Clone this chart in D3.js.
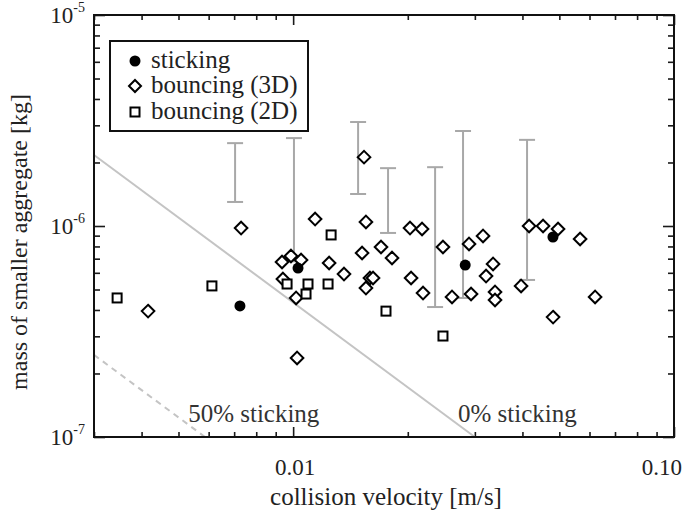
<!DOCTYPE html>
<html><head><meta charset="utf-8">
<script src="https://cdn.jsdelivr.net/npm/d3@7"></script>
<style>
html,body{margin:0;padding:0;background:#fff;}
svg{display:block;font-family:"Liberation Serif","Times New Roman",serif;}
</style></head>
<body>
<svg id="chart" width="696" height="516"></svg>
<script>
// ---- data (velocity m/s, mass kg) ----
const stickingV = [0.00725, 0.0103, 0.0283, 0.0481];
const stickingM = [4.18e-7, 6.32e-7, 6.53e-7, 8.87e-7];

const bounce3DV = [0.00416, 0.0073, 0.01024, 0.00935, 0.00987, 0.01049, 0.0094, 0.01018, 0.01142, 0.01243,
  0.0136, 0.01517, 0.01535, 0.01553, 0.01553, 0.01591, 0.01621, 0.01701, 0.01818, 0.02027,
  0.0218, 0.0204, 0.02193, 0.02474, 0.02613, 0.02896, 0.02932, 0.03152, 0.0321, 0.03349,
  0.03389, 0.03389, 0.03967, 0.04164, 0.04531, 0.04961, 0.04814, 0.05668, 0.06206];
const bounce3DM = [3.95e-7, 9.78e-7, 2.37e-7, 6.75e-7, 7.21e-7, 6.9e-7, 5.61e-7, 4.56e-7, 1.079e-6, 6.68e-7,
  5.92e-7, 7.45e-7, 2.12e-6, 1.045e-6, 5.08e-7, 5.67e-7, 5.67e-7, 7.95e-7, 7.05e-7, 9.78e-7,
  9.68e-7, 5.67e-7, 4.81e-7, 7.95e-7, 4.61e-7, 8.22e-7, 4.76e-7, 8.97e-7, 5.79e-7, 6.61e-7,
  4.87e-7, 4.46e-7, 5.2e-7, 1.0e-6, 1.0e-6, 9.68e-7, 3.7e-7, 8.68e-7, 4.61e-7];

const bounce2DV = [0.00345, 0.00612, 0.00964, 0.01094, 0.01081, 0.01235, 0.01258, 0.01753, 0.02474];
const bounce2DM = [4.56e-7, 5.2e-7, 5.31e-7, 5.31e-7, 4.76e-7, 5.31e-7, 9.07e-7, 3.95e-7, 3.01e-7];

const errV    = [0.00704, 0.01005, 0.01481, 0.01775, 0.02359, 0.02793, 0.04113];
const errHigh = [2.47e-6, 2.61e-6, 3.11e-6, 1.88e-6, 1.90e-6, 2.82e-6, 2.56e-6];
const errLow  = [1.30e-6, 6.8e-7, 1.418e-6, 9.27e-7, 4.13e-7, 4.56e-7, 5.55e-7];

const line0V  = [0.003, 0.03];
const line0M  = [2.17e-6, 1e-7];
const line50V = [0.003, 0.00587];
const line50M = [2.45e-7, 1e-7];

const xDomain = [0.003, 0.1];
const yDomain = [1e-7, 1e-5];
const xMajorTicks = [0.01, 0.1];
const xTickLabels = ["0.01", "0.10"];
const yMajorTicks = [1e-7, 1e-6, 1e-5];
const yTickExps = ["-7", "-6", "-5"];
const legendLabels = ["sticking", "bouncing (3D)", "bouncing (2D)"];
const annotLabels = ["50% sticking", "0% sticking"];
const annotV = [0.0053, 0.0271];
const xTitle = "collision velocity [m/s]";
const yTitle = "mass of smaller aggregate [kg]";

// ---- layout ----
const W = 696, H = 516;
const m = {left: 94, right: 22, top: 15, bottom: 79};
const pw = W - m.left - m.right, ph = H - m.top - m.bottom;
const svg = d3.select("#chart");
const g = svg.append("g").attr("transform", `translate(${m.left},${m.top})`);

const x = d3.scaleLog().domain(xDomain).range([0, pw]);
const y = d3.scaleLog().domain(yDomain).range([ph, 0]);

const allX = x.ticks();
const allY = y.ticks();
const isMajor = v => Math.abs(Math.log10(v) - Math.round(Math.log10(v))) < 1e-6;
const xMinor = allX.filter(v => !isMajor(v));
const yMinor = allY.filter(v => !isMajor(v));

const tickColor = "#1a1a1a";
function drawAxis(axisGen, scale, vals, len, transform) {
  const a = g.append("g").attr("transform", transform)
    .call(axisGen(scale).tickValues(vals).tickSizeInner(-len).tickSizeOuter(0).tickFormat(""));
  a.select(".domain").remove();
  a.selectAll(".tick line").attr("stroke", tickColor).attr("stroke-width", 1.6);
}
drawAxis(d3.axisBottom, x, xMinor, 5, `translate(0,${ph})`);
drawAxis(d3.axisBottom, x, xMajorTicks, 10, `translate(0,${ph})`);
drawAxis(d3.axisTop, x, xMinor, 5, `translate(0,0)`);
drawAxis(d3.axisTop, x, xMajorTicks, 10, `translate(0,0)`);
drawAxis(d3.axisLeft, y, yMinor, 6, `translate(0,0)`);
drawAxis(d3.axisLeft, y, yMajorTicks, 11, `translate(0,0)`);
drawAxis(d3.axisRight, y, yMinor, 6, `translate(${pw},0)`);
drawAxis(d3.axisRight, y, yMajorTicks, 11, `translate(${pw},0)`);

// ---- sticking threshold lines ----
const lineGen = d3.line().x(d => x(d[0])).y(d => y(d[1]));
g.append("path").datum(line0V.map((v, i) => [v, line0M[i]]))
  .attr("d", lineGen).attr("fill", "none").attr("stroke", "#c4c4c4").attr("stroke-width", 2);
g.append("path").datum(line50V.map((v, i) => [v, line50M[i]]))
  .attr("d", lineGen).attr("fill", "none").attr("stroke", "#c4c4c4").attr("stroke-width", 2)
  .attr("stroke-dasharray", "6,5");

// ---- error bars ----
const eb = g.append("g").attr("stroke", "#a8a8a8").attr("stroke-width", 2).attr("fill", "none");
errV.forEach((v, i) => {
  const cx = x(v), y1 = y(errHigh[i]), y2 = y(errLow[i]);
  eb.append("line").attr("x1", cx).attr("x2", cx).attr("y1", y1).attr("y2", y2);
  eb.append("line").attr("x1", cx - 8).attr("x2", cx + 8).attr("y1", y1).attr("y2", y1);
  eb.append("line").attr("x1", cx - 8).attr("x2", cx + 8).attr("y1", y2).attr("y2", y2);
});

// ---- markers ----
const diamond = s => `M0,${-s}L${s},0L0,${s}L${-s},0Z`;
g.append("g").selectAll("path").data(bounce3DV.map((v, i) => [v, bounce3DM[i]])).join("path")
  .attr("transform", d => `translate(${x(d[0])},${y(d[1])})`)
  .attr("d", diamond(6.3)).attr("fill", "#fff").attr("stroke", "#000").attr("stroke-width", 2);
g.append("g").selectAll("rect").data(bounce2DV.map((v, i) => [v, bounce2DM[i]])).join("rect")
  .attr("x", d => x(d[0]) - 4.5).attr("y", d => y(d[1]) - 4.5).attr("width", 9).attr("height", 9)
  .attr("fill", "#fff").attr("stroke", "#000").attr("stroke-width", 2);
g.append("g").selectAll("circle").data(stickingV.map((v, i) => [v, stickingM[i]])).join("circle")
  .attr("cx", d => x(d[0])).attr("cy", d => y(d[1])).attr("r", 5.5).attr("fill", "#000");

// ---- frame ----
g.append("rect").attr("width", pw).attr("height", ph).attr("fill", "none")
  .attr("stroke", "#111").attr("stroke-width", 2);

// ---- annotations ----
const fs = 25;
const fsTick = 23;
annotLabels.forEach((t, i) => {
  g.append("text").attr("x", x(annotV[i])).attr("y", ph - 15)
    .attr("font-size", fs).attr("fill", "#333").text(t);
});

// ---- tick labels ----
xMajorTicks.forEach((v, i) => {
  svg.append("text").attr("x", m.left + x(v) + (i === 1 ? 8 : 2)).attr("y", m.top + ph + 38)
    .attr("text-anchor", i === 1 ? "end" : "middle").attr("font-size", fsTick).attr("fill", "#222")
    .text(xTickLabels[i]);
});
yMajorTicks.forEach((v, i) => {
  const t = svg.append("text").attr("x", m.left - 9).attr("y", m.top + y(v) + 8)
    .attr("text-anchor", "end").attr("font-size", fsTick).attr("fill", "#222");
  t.append("tspan").text("10");
  t.append("tspan").attr("font-size", 14).attr("dy", -11).text(yTickExps[i]);
});

// ---- axis titles ----
svg.append("text").attr("x", m.left + pw / 2 + 2).attr("y", H - 11).attr("text-anchor", "middle")
  .attr("font-size", fs).attr("fill", "#222").text(xTitle);
svg.append("text").attr("transform", `translate(27,${m.top + ph / 2 + 16}) rotate(-90)`)
  .attr("text-anchor", "middle").attr("font-size", 24).attr("fill", "#222").text(yTitle);

// ---- legend ----
const lg = svg.append("g").attr("transform", "translate(110,41)");
lg.append("rect").attr("width", 198).attr("height", 90).attr("fill", "#fff")
  .attr("stroke", "#111").attr("stroke-width", 2);
const rowY = [20, 45, 71];
lg.append("circle").attr("cx", 25).attr("cy", rowY[0]).attr("r", 5.5).attr("fill", "#000");
lg.append("path").attr("transform", `translate(25,${rowY[1]})`).attr("d", diamond(6))
  .attr("fill", "#fff").attr("stroke", "#000").attr("stroke-width", 2);
lg.append("rect").attr("x", 25 - 4.5).attr("y", rowY[2] - 4.5).attr("width", 9).attr("height", 9)
  .attr("fill", "#fff").attr("stroke", "#000").attr("stroke-width", 2);
legendLabels.forEach((t, i) => {
  lg.append("text").attr("x", 41).attr("y", rowY[i] + 7).attr("font-size", fs).attr("fill", "#222").text(t);
});
</script>
</body></html>
